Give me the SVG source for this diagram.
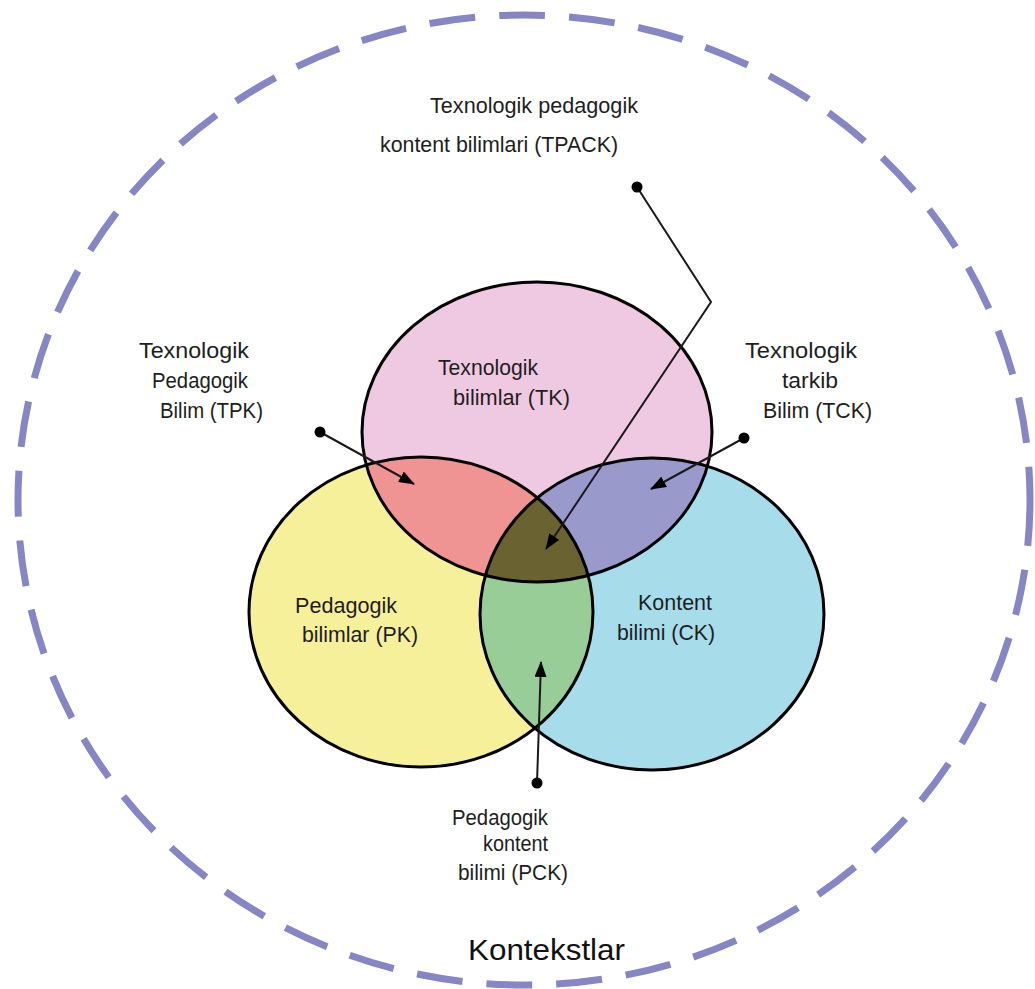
<svg xmlns="http://www.w3.org/2000/svg" width="1035" height="989" viewBox="0 0 1035 989">
  <style>
    .lbl { font-family: "Liberation Sans", Arial, sans-serif; font-size: 21.5px; fill: #1e1e1e; }
    .big { font-family: "Liberation Sans", Arial, sans-serif; font-size: 30px; fill: #111; }
    .outline { fill: none; stroke: #000; stroke-width: 3; }
    .conn { fill: none; stroke: #1a1a1a; stroke-width: 2; marker-end: url(#arr); }
    .dot { fill: #000; }
  </style>
  <defs>
    <marker id="arr" markerUnits="userSpaceOnUse" markerWidth="16" markerHeight="12" refX="15" refY="6" orient="auto">
      <path d="M0,0 L16,6 L0,12 z" fill="#000"/>
    </marker>
    <clipPath id="clipTK"><ellipse cx="537" cy="432" rx="175" ry="150"/></clipPath>
    <clipPath id="clipPK"><ellipse cx="421" cy="612" rx="172" ry="155"/></clipPath>
    <clipPath id="clipCK"><ellipse cx="652" cy="614" rx="172" ry="156"/></clipPath>
  </defs>
  <rect width="1035" height="989" fill="#fff"/>

  <g id="contexts">
    <ellipse cx="524" cy="500" rx="506" ry="485" fill="none" stroke="#8686c6" stroke-width="7" stroke-dasharray="46 24"/>
    <text class="big" x="468" y="960" textLength="157" lengthAdjust="spacingAndGlyphs">Kontekstlar</text>
  </g>

  <g id="TK">
    <ellipse cx="537" cy="432" rx="175" ry="150" fill="#efc9e1"/>
  </g>
  <g id="PK">
    <ellipse cx="421" cy="612" rx="172" ry="155" fill="#f7f09b"/>
  </g>
  <g id="CK">
    <ellipse cx="652" cy="614" rx="172" ry="156" fill="#a7dcea"/>
  </g>
  <g id="TPK">
    <ellipse cx="421" cy="612" rx="172" ry="155" fill="#f09393" clip-path="url(#clipTK)"/>
  </g>
  <g id="TCK">
    <ellipse cx="652" cy="614" rx="172" ry="156" fill="#9a99cc" clip-path="url(#clipTK)"/>
  </g>
  <g id="PCK">
    <ellipse cx="652" cy="614" rx="172" ry="156" fill="#98cd98" clip-path="url(#clipPK)"/>
  </g>
  <g id="TPACK">
    <g clip-path="url(#clipTK)">
      <ellipse cx="652" cy="614" rx="172" ry="156" fill="#6a6231" clip-path="url(#clipPK)"/>
    </g>
  </g>
  <g id="outlines">
    <ellipse class="outline" cx="537" cy="432" rx="175" ry="150"/>
    <ellipse class="outline" cx="421" cy="612" rx="172" ry="155"/>
    <ellipse class="outline" cx="652" cy="614" rx="172" ry="156"/>
  </g>

  <g id="connectors">
    <path class="conn" d="M637,187 L711,302 L546,549"/>
    <path class="conn" d="M320,432 L414,484"/>
    <path class="conn" d="M744,438 L651,489"/>
    <path class="conn" d="M537,783 L541,662"/>
    <circle class="dot" cx="637" cy="187" r="5.5"/>
    <circle class="dot" cx="320" cy="432" r="5.5"/>
    <circle class="dot" cx="744" cy="438" r="5.5"/>
    <circle class="dot" cx="537" cy="783" r="5.5"/>
  </g>

  <g id="label-TPACK">
    <text class="lbl" x="430" y="113" textLength="208" lengthAdjust="spacingAndGlyphs">Texnologik pedagogik</text>
    <text class="lbl" x="380" y="152" textLength="238" lengthAdjust="spacingAndGlyphs">kontent bilimlari (TPACK)</text>
  </g>
  <g id="label-TPK">
    <text class="lbl" x="139" y="358" textLength="110" lengthAdjust="spacingAndGlyphs">Texnologik</text>
    <text class="lbl" x="152" y="388" textLength="96" lengthAdjust="spacingAndGlyphs">Pedagogik</text>
    <text class="lbl" x="160" y="418" textLength="103" lengthAdjust="spacingAndGlyphs">Bilim (TPK)</text>
  </g>
  <g id="label-TCK">
    <text class="lbl" x="745" y="358" textLength="112" lengthAdjust="spacingAndGlyphs">Texnologik</text>
    <text class="lbl" x="782" y="388" textLength="56" lengthAdjust="spacingAndGlyphs">tarkib</text>
    <text class="lbl" x="763" y="418" textLength="109" lengthAdjust="spacingAndGlyphs">Bilim (TCK)</text>
  </g>
  <g id="label-TK">
    <text class="lbl" x="438" y="375" textLength="100" lengthAdjust="spacingAndGlyphs">Texnologik</text>
    <text class="lbl" x="453" y="405" textLength="117" lengthAdjust="spacingAndGlyphs">bilimlar (TK)</text>
  </g>
  <g id="label-PK">
    <text class="lbl" x="295" y="613" textLength="102" lengthAdjust="spacingAndGlyphs">Pedagogik</text>
    <text class="lbl" x="302" y="642" textLength="116" lengthAdjust="spacingAndGlyphs">bilimlar (PK)</text>
  </g>
  <g id="label-CK">
    <text class="lbl" x="638" y="610" textLength="74" lengthAdjust="spacingAndGlyphs">Kontent</text>
    <text class="lbl" x="617" y="640" textLength="98" lengthAdjust="spacingAndGlyphs">bilimi (CK)</text>
  </g>
  <g id="label-PCK">
    <text class="lbl" x="452" y="825" textLength="96" lengthAdjust="spacingAndGlyphs">Pedagogik</text>
    <text class="lbl" x="483" y="851" textLength="65" lengthAdjust="spacingAndGlyphs">kontent</text>
    <text class="lbl" x="458" y="880" textLength="110" lengthAdjust="spacingAndGlyphs">bilimi (PCK)</text>
  </g>
</svg>
